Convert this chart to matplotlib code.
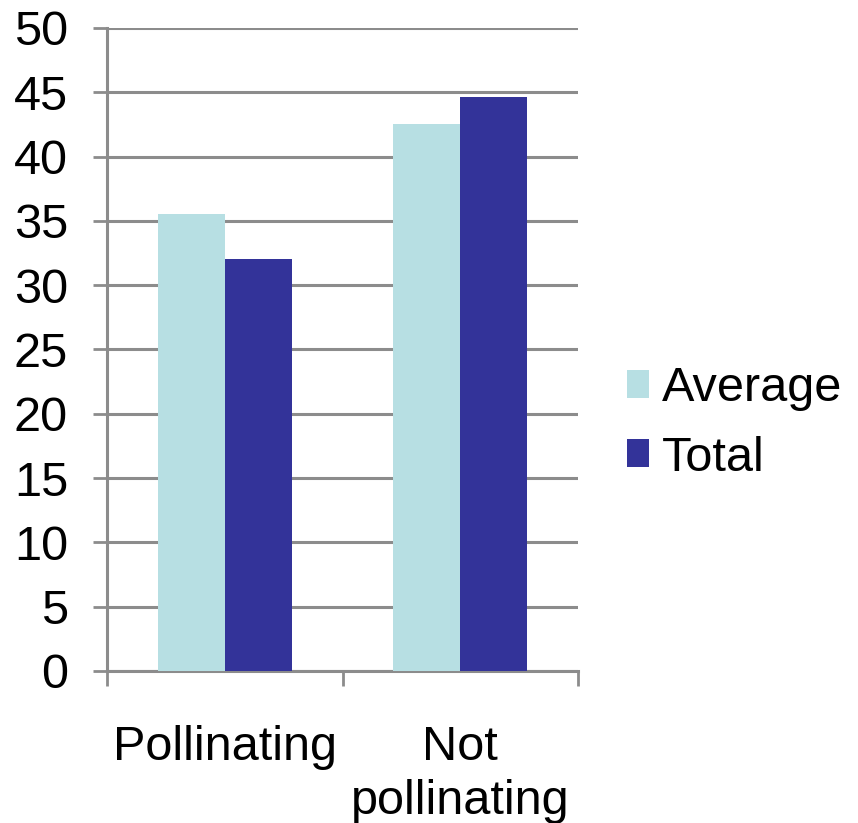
import matplotlib.pyplot as plt
import numpy as np

plt.rcParams['font.family'] = ['Liberation Sans', 'DejaVu Sans']

# data
categories = ["Pollinating", "Not\npollinating"]
average = [35.5, 42.5]
total = [32.0, 44.6]
y_ticks = list(range(0, 51, 5))

c_avg = '#B7DFE3'
c_tot = '#333399'
grid_c = '#8C8C8C'

fig = plt.figure(figsize=(8.58, 8.23), dpi=100)
ax = fig.add_axes([0.1247, 0.1847, 0.549, 0.7813])

x = np.arange(len(categories))
w = 0.285
ax.bar(x - w / 2, average, width=w, color=c_avg, label="Average", zorder=3)
ax.bar(x + w / 2, total, width=w, color=c_tot, label="Total", zorder=3)

ax.set_xlim(-0.5, 1.5)
ax.set_ylim(0, 50)
ax.set_yticks(y_ticks)
ax.yaxis.grid(True, color=grid_c, linewidth=2.2, zorder=0)
ax.set_axisbelow(True)

# major ticks mark category boundaries, minor ticks carry the labels
ax.set_xticks([-0.5, 0.5, 1.5])
ax.set_xticklabels([])
ax.set_xticks(x, minor=True)
ax.set_xticklabels(categories, minor=True, fontsize=35, linespacing=1.25)
ax.tick_params(axis='x', which='minor', length=0, pad=39)
ax.tick_params(axis='x', which='major', length=11, width=2, color=grid_c)
ax.tick_params(axis='y', length=10, width=2, color=grid_c, labelsize=35, pad=18)

for s in ['top', 'right']:
    ax.spines[s].set_visible(False)
for s in ['left', 'bottom']:
    ax.spines[s].set_color(grid_c)
    ax.spines[s].set_linewidth(2.2)

ax.legend(loc='center left', bbox_to_anchor=(1.105, 0.385), frameon=False,
          fontsize=35, handlelength=0.45, handleheight=0.5, handletextpad=0.25,
          labelspacing=0.5, borderaxespad=0, borderpad=0)

fig.savefig("out.png", dpi=100)
